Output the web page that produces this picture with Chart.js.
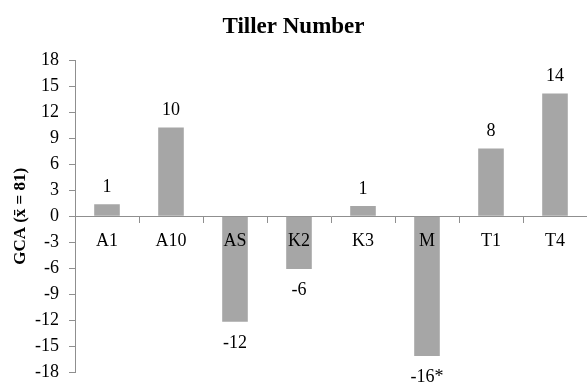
<!DOCTYPE html>
<html>
<head>
<meta charset="utf-8">
<script src="https://cdn.jsdelivr.net/npm/chart.js@4"></script>
<style>
html,body{margin:0;padding:0;background:#fff;}
#wrap{width:587px;height:383px;}
</style>
</head>
<body>
<div id="wrap"><canvas id="c" width="587" height="383"></canvas></div>
<script>
const categories = ["A1","A10","AS","K2","K3","M","T1","T4"];
const gcaValues = [1.38, 10.27, -12.2, -6.1, 1.2, -16.15, 7.85, 14.2];
const valueLabels = ["1","10","-12","-6","1","-16*","8","14"];
const yTicks = [-18,-15,-12,-9,-6,-3,0,3,6,9,12,15,18];

const serif = "'Liberation Serif', 'Times New Roman', serif";
const axisColor = "#8f8f8f";

const valueLabelPlugin = {
  id: 'valueLabels',
  afterDatasetsDraw(chart) {
    const ctx = chart.ctx;
    const meta = chart.getDatasetMeta(0);
    ctx.save();
    ctx.font = "18px " + serif;
    ctx.fillStyle = "#000";
    ctx.textAlign = "center";
    ctx.textBaseline = "middle";
    meta.data.forEach((bar, i) => {
      const v = gcaValues[i];
      const y = v >= 0 ? bar.y - 17 : bar.y + 21;
      ctx.fillText(valueLabels[i], bar.x, y);
    });
    ctx.restore();
  }
};

new Chart(document.getElementById('c'), {
  type: 'bar',
  data: {
    labels: categories,
    datasets: [{
      data: gcaValues,
      backgroundColor: '#a6a6a6',
      borderWidth: 0,
      barPercentage: 0.8,
      categoryPercentage: 0.5
    }]
  },
  options: {
    responsive: false,
    animation: false,
    devicePixelRatio: 1,
    layout: { padding: { left: 0, right: 0, top: 0, bottom: 11 } },
    plugins: {
      legend: { display: false },
      tooltip: { enabled: false },
      title: {
        display: true,
        text: 'Tiller Number',
        color: '#000',
        font: { family: serif, size: 23, weight: 'bold' },
        padding: { top: 13, bottom: 20 }
      }
    },
    scales: {
      x: {
        position: { y: 0 },
        afterFit(scale) { scale.paddingTop = 0; scale.paddingBottom = 0; scale.paddingLeft = 0; scale.paddingRight = 0; },
        grid: {
          display: true,
          drawOnChartArea: false,
          drawTicks: true,
          tickLength: 6,
          color: axisColor,
          offset: true
        },
        border: { display: true, color: axisColor, width: 1 },
        ticks: {
          z: 1,
          color: '#000',
          font: { family: serif, size: 18 },
          padding: 8,
          maxRotation: 0
        }
      },
      y: {
        min: -18,
        max: 18,
        afterFit(scale) { scale.width = 75; scale.paddingTop = 0; scale.paddingBottom = 0; },
        afterBuildTicks(scale) { scale.ticks = yTicks.map(v => ({ value: v })); },
        grid: {
          display: true,
          drawOnChartArea: false,
          drawTicks: true,
          tickLength: 6,
          color: axisColor
        },
        border: { display: true, color: axisColor, width: 1 },
        ticks: {
          color: '#000',
          font: { family: serif, size: 18 },
          padding: 10
        },
        title: {
          display: true,
          text: 'GCA (x\u0304 = 81)',
          color: '#000',
          font: { family: serif, size: 17, weight: 'bold' },
          padding: { top: 10, bottom: 0 }
        }
      }
    }
  },
  plugins: [valueLabelPlugin]
});
</script>
</body>
</html>
